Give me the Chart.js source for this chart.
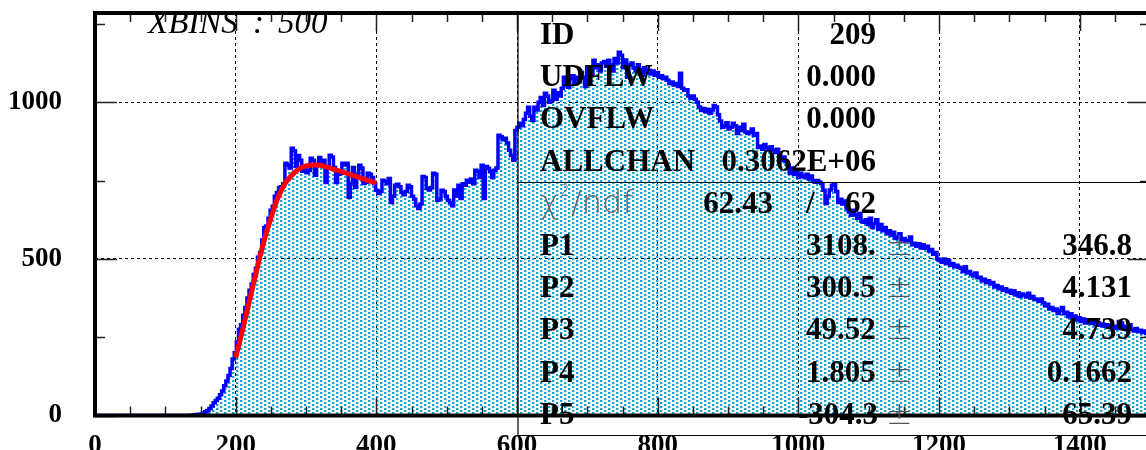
<!DOCTYPE html>
<html>
<head>
<meta charset="utf-8">
<script src="https://cdn.jsdelivr.net/npm/chart.js@4"></script>
<style>
  html, body { margin: 0; padding: 0; overflow: hidden; background: #fff; }
  #wrap { width: 1152px; height: 450px; position: relative; }
</style>
</head>
<body>
<div id="wrap"><canvas id="histo"></canvas></div>
<script>
// histogram: 500 bins of width 3, from 0 to 1500
const binWidth = 3;
const binCounts = [
  0,0,0,0,0,0,0,0,0,0,
  0,0,0,0,0,0,0,0,0,0,
  0,0,0,0,0,0,0,0,0,0,
  0,0,0,0,0,0,0,0,0,0,
  0,0,0,0,0,0,1,0,2,3,
  4,5,8,12,16,22,30,41,48,55,
  66,78,95,110,128,150,180,200,235,275,
  290,320,345,375,400,420,450,470,505,520,
  560,600,605,630,655,668,700,712,728,730,
  740,805,800,790,853,845,795,830,815,780,
  789,775,782,821,815,767,800,824,805,815,
  744,790,831,825,792,744,770,773,805,800,
  805,697,740,792,728,770,799,790,741,745,
  773,770,760,740,719,709,715,751,748,740,
  757,680,700,735,738,730,712,705,715,735,
  730,700,690,670,661,675,763,760,725,720,
  728,773,770,687,690,719,715,700,687,680,
  670,720,700,735,693,740,735,751,745,755,
  740,783,780,760,799,693,795,789,780,760,
  783,790,895,890,880,885,870,847,830,815,
  910,920,933,925,945,965,984,955,942,984,
  975,1000,1015,990,1029,1020,1000,1006,1038,1010,
  1030,1020,1045,1080,1060,1048,1075,1085,1060,1080,
  1070,1095,1080,1050,1112,1100,1090,1134,1110,1120,
  1100,1125,1130,1115,1134,1120,1100,1140,1125,1160,
  1150,1110,1135,1080,1120,1125,1110,1100,1120,1105,
  1086,1110,1095,1102,1090,1100,1086,1095,1080,1085,
  1075,1080,1070,1060,1065,1055,1060,1050,1093,1045,
  1038,1040,1020,1013,1020,1010,1000,985,974,980,
  970,978,965,975,990,985,960,940,920,925,
  935,915,920,933,925,900,920,910,930,905,
  900,904,915,895,900,856,860,850,865,855,
  850,858,847,840,850,830,815,825,810,800,
  773,790,770,780,760,773,765,760,770,755,
  765,750,745,750,745,740,719,677,700,720,
  735,740,715,680,690,675,685,660,650,639,
  655,640,630,645,620,617,625,610,630,600,
  613,625,595,610,590,600,580,590,575,585,
  565,570,580,560,565,555,559,570,545,550,
  540,548,535,545,534,540,525,530,515,520,
  500,495,489,500,485,495,480,485,475,480,
  473,470,460,475,455,460,450,445,455,440,
  441,430,435,425,430,420,425,410,415,405,
  410,400,405,395,400,390,398,385,392,380,
  388,385,378,390,375,380,372,370,365,372,
  360,350,355,340,345,335,340,326,335,345,
  325,330,315,325,310,318,305,312,300,308,
  295,305,298,294,300,290,296,288,292,285,
  290,282,288,280,285,278,300,295,285,275,
  280,290,275,270,278,268,272,265,270,262
];

// fit curve (red)
const fitX = [200,210,220,230,240,250,260,270,280,290,300,310,320,330,340,350,360,370,380,390,400];
const fitY = [185,275,370,465,555,630,695,740,768,787,797,800,799,793,786,779,771,764,756,749,742];

const xTicks = [0,200,400,600,800,1000,1200,1400];
const yTicks = [0,500,1000];
const xMax = 1500;
const yMax = 1285;

// stats box
const statNames = ['ID','UDFLW','OVFLW','ALLCHAN'];
const statValues = ['209','0.000','0.000','0.3062E+06'];
const chiValue = '62.43';
const ndfValue = '62';
const parNames = ['P1','P2','P3','P4','P5'];
const parValues = ['3108.','300.5','49.52','1.805','-304.3'];
const parErrors = ['346.8','4.131','4.739','0.1662','65.39'];

// build step data
const histData = binCounts.map((v, i) => ({ x: i * binWidth, y: v }));
histData.push({ x: binCounts.length * binWidth, y: binCounts[binCounts.length - 1] });
const fitData = fitX.map((x, i) => ({ x: x, y: fitY[i] }));

// dotted cyan fill
const pc = document.createElement('canvas');
pc.width = 8; pc.height = 4;
const pctx = pc.getContext('2d');
pctx.fillStyle = '#1aa3cc';
pctx.fillRect(0, 0, 2, 2);
pctx.fillRect(4, 2, 2, 2);
pctx.fillStyle = 'rgba(26,163,204,0.35)';
pctx.fillRect(2, 0, 1, 2);
pctx.fillRect(6, 2, 1, 2);
const dotFill = pctx.createPattern(pc, 'repeat');

const serifBold = 'bold 31px "Liberation Serif"';
const thin = '200 32px "DejaVu Sans"';

const decor = {
  id: 'decor',
  afterDraw(chart) {
    const { ctx, chartArea: a, scales: { x, y } } = chart;
    ctx.save();
    // inward tick marks
    ctx.strokeStyle = '#222';
    ctx.lineWidth = 1.5;
    ctx.beginPath();
    for (let v = 0; v <= xMax; v += 50) {
      const px = Math.round(x.getPixelForValue(v)) + 0.5;
      const len = v % 200 === 0 ? 18 : 9;
      ctx.moveTo(px, a.bottom); ctx.lineTo(px, a.bottom - len);
      ctx.moveTo(px, a.top); ctx.lineTo(px, a.top + len);
    }
    for (let v = 0; v <= yMax; v += 250) {
      const py = Math.round(y.getPixelForValue(v)) + 0.5;
      const len = v % 500 === 0 ? 22 : 10;
      ctx.moveTo(a.left, py); ctx.lineTo(a.left + len, py);
      ctx.moveTo(a.right, py); ctx.lineTo(a.right - len, py);
    }
    ctx.stroke();

    // frame
    ctx.strokeStyle = '#000';
    ctx.lineWidth = 4;
    ctx.strokeRect(a.left, a.top, a.right - a.left, a.bottom - a.top);

    // stats box lines
    const bx = 518;
    ctx.lineWidth = 1.2;
    ctx.beginPath();
    ctx.moveTo(bx, a.top); ctx.lineTo(bx, 435);
    ctx.moveTo(bx, 182.5); ctx.lineTo(a.right, 182.5);
    ctx.moveTo(bx, 435.5); ctx.lineTo(a.right, 435.5);
    ctx.stroke();

    // stats text
    const lx = 540, vr = 876, step = 42.2;
    let base = 44;
    ctx.fillStyle = '#000';
    ctx.textBaseline = 'alphabetic';
    statNames.forEach((n, i) => {
      ctx.font = serifBold;
      ctx.textAlign = 'left';
      ctx.fillText(n, lx, base + i * step);
      ctx.textAlign = 'right';
      ctx.fillText(statValues[i], vr, base + i * step);
    });
    // chi2 / ndf row
    let cy = base + 4 * step;
    ctx.fillStyle = '#666';
    ctx.font = thin;
    ctx.textAlign = 'left';
    ctx.fillText('\u03c7', lx, cy);
    const cw = ctx.measureText('\u03c7').width;
    ctx.font = '200 15px "DejaVu Sans"';
    ctx.fillText('2', lx + cw + 1, cy - 17);
    ctx.font = thin;
    ctx.fillText('/ndf', lx + cw + 12, cy);
    ctx.fillStyle = '#000';
    ctx.font = serifBold;
    ctx.textAlign = 'right';
    ctx.fillText(chiValue, 773, cy);
    ctx.textAlign = 'left';
    ctx.fillText('/', 806, cy);
    ctx.textAlign = 'right';
    ctx.fillText(ndfValue, vr, cy);
    // parameters
    parNames.forEach((n, i) => {
      const py = base + (5 + i) * step;
      ctx.fillStyle = '#000';
      ctx.font = serifBold;
      ctx.textAlign = 'left';
      ctx.fillText(n, lx, py);
      ctx.fillText(parValues[i], parValues[i].startsWith('-') ? 798 : 806, py);
      ctx.textAlign = 'right';
      ctx.fillText(parErrors[i], 1132, py);
      ctx.fillStyle = '#555';
      ctx.font = thin;
      ctx.textAlign = 'left';
      ctx.fillText('\u00b1', 886, py);
    });

    // title
    ctx.fillStyle = '#000';
    ctx.font = 'italic 33px "Liberation Serif"';
    ctx.textAlign = 'left';
    ctx.fillText('XBINS', 148, 33);
    ctx.fillText(':', 253, 33);
    ctx.fillText('500', 278, 33);
    ctx.restore();
  }
};

const tickFont = { family: 'Liberation Serif', size: 27, weight: 'bold' };

function noPad(s) {
  s.paddingTop = 0; s.paddingBottom = 0; s.paddingLeft = 0; s.paddingRight = 0;
}

new Chart(document.getElementById('histo').getContext('2d'), {
  type: 'line',
  plugins: [decor],
  data: {
    datasets: [
      {
        label: 'fit',
        data: fitData,
        borderColor: '#ff0000',
        borderWidth: 5,
        pointRadius: 0,
        fill: false,
        cubicInterpolationMode: 'monotone',
        order: 1
      },
      {
        label: 'histo',
        data: histData,
        stepped: 'after',
        borderColor: '#0000ff',
        borderWidth: 3.5,
        pointRadius: 0,
        fill: 'origin',
        backgroundColor: dotFill,
        order: 2
      }
    ]
  },
  options: {
    responsive: true,
    maintainAspectRatio: false,
    animation: false,
    layout: { padding: { top: 13, right: 2, left: 0, bottom: 0 } },
    plugins: { legend: { display: false }, tooltip: { enabled: false } },
    scales: {
      x: {
        type: 'linear',
        min: 0,
        max: xMax,
        afterBuildTicks: s => { s.ticks = xTicks.map(v => ({ value: v })); },
        afterFit: s => { s.height = 34.5; noPad(s); },
        grid: { color: '#000', lineWidth: 1, drawTicks: false },
        border: { dash: [3, 3], display: false },
        ticks: { color: '#000', font: tickFont, padding: 14, maxRotation: 0, autoSkip: false, callback: v => String(v) }
      },
      y: {
        type: 'linear',
        min: 0,
        max: yMax,
        afterBuildTicks: s => { s.ticks = yTicks.map(v => ({ value: v })); },
        afterFit: s => { s.width = 95; noPad(s); },
        grid: { color: '#000', lineWidth: 1, drawTicks: false },
        border: { dash: [3, 3], display: false },
        ticks: { color: '#000', font: tickFont, padding: 33, callback: v => String(v) }
      }
    }
  }
});
</script>
</body>
</html>
